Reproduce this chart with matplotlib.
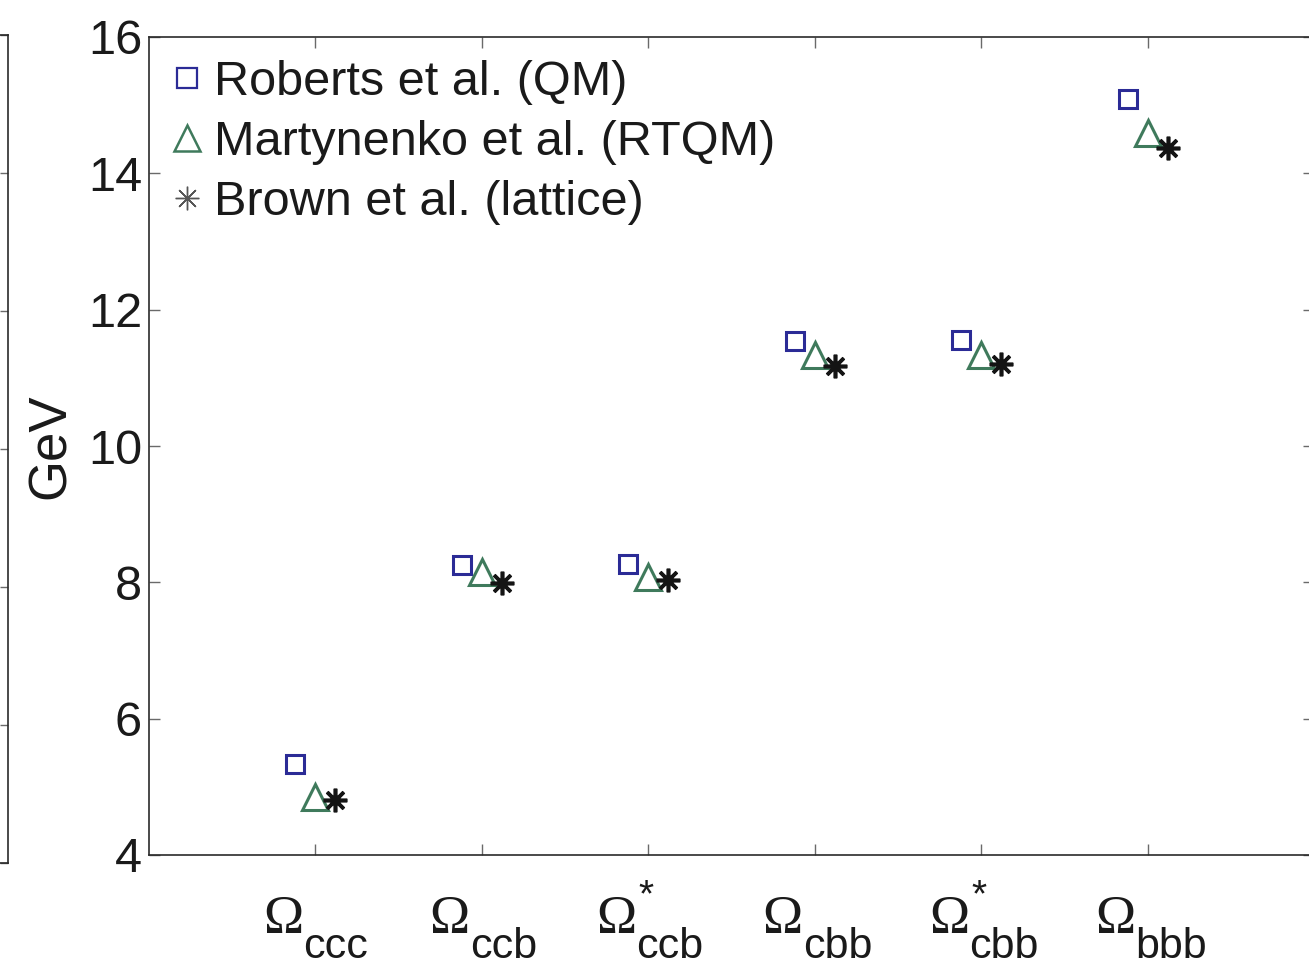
import matplotlib
matplotlib.use("Agg")
import matplotlib.pyplot as plt
import matplotlib.transforms as mtransforms
from matplotlib.lines import Line2D
import numpy as np

# ---------------- data ----------------
categories = ["ccc", "ccb", "ccb", "cbb", "cbb", "bbb"]
starred = [False, False, True, False, True, False]
roberts_qm = [5.34, 8.25, 8.27, 11.54, 11.56, 15.09]
martynenko_rtqm = [4.85, 8.15, 8.08, 11.34, 11.34, 14.59]
brown_lattice = [4.80, 7.99, 8.03, 11.17, 11.20, 14.37]
series_labels = ["Roberts et al. (QM)", "Martynenko et al. (RTQM)", "Brown et al. (lattice)"]
yticks = [4, 6, 8, 10, 12, 14, 16]

W, H = 1309, 966
fig = plt.figure(figsize=(W / 100, H / 100), dpi=100)
plt.rcParams['font.family'] = ['Liberation Sans', 'DejaVu Sans']

spine_col = "#2a2a2a"
tick_col = "#6a6a6a"

# partial neighbouring panel at left edge
axl = fig.add_axes([-0.3, 1 - 863 / H, 0.3 + 8 / W, (863 - 35) / H])
axl.set_xlim(0, 1)
axl.set_ylim(0, 6)
axl.set_xticks([])
axl.set_yticks(range(7))
axl.yaxis.tick_right()
axl.tick_params(axis='y', direction='in', length=6, width=1, colors=tick_col, labelright=False)
for s in axl.spines.values():
    s.set_color(spine_col)
    s.set_linewidth(1.2)

# main axes
x0, x1 = 149 / W, 1314 / W
y0, y1 = 1 - 855 / H, 1 - 37 / H
ax = fig.add_axes([x0, y0, x1 - x0, y1 - y0])
xpos = np.arange(1, len(categories) + 1)
ax.set_xlim(0, 7)
ax.set_ylim(4, 16)
ax.set_yticks(yticks)
ax.set_xticks(xpos)
ax.set_xticklabels([])
ax.tick_params(axis='both', direction='in', length=8, width=1, color=tick_col,
               top=True, right=True, labelsize=35, pad=5, labelcolor="#1a1a1a")
for s in ax.spines.values():
    s.set_color(spine_col)
    s.set_linewidth(1.2)

off = 0.12
sq_col = "#2b2b96"
tri_col = "#3f7a5c"
st_col = "#141414"
ax.plot(xpos - off, roberts_qm, linestyle='none', marker='s', ms=13.5, mfc='none',
        mec=sq_col, mew=2.2)
ax.plot(xpos, martynenko_rtqm, linestyle='none', marker='^', ms=19, mfc='none',
        mec=tri_col, mew=2.2)
ax.plot(xpos + off, brown_lattice, linestyle='none', marker=(8, 2, 0), ms=17,
        mec=st_col, mew=2.6)

# legend (proxy handles)
handles = [
    Line2D([], [], linestyle='none', marker='s', ms=14, mfc='none', mec=sq_col, mew=1.6),
    Line2D([], [], linestyle='none', marker='^', ms=19, mfc='none', mec=tri_col, mew=1.8),
    Line2D([], [], linestyle='none', marker=(8, 2, 0), ms=17, mec="#555555", mew=1.0),
]
ax.legend(handles, series_labels, loc='upper left',
          frameon=False, fontsize=35, handlelength=0.6, handletextpad=0.27,
          borderpad=0, borderaxespad=0, labelspacing=0.31, labelcolor="#1a1a1a")
leg = ax.get_legend()
leg.set_bbox_to_anchor(((23 / W) / (x1 - x0), 1 - (16 / H) / (y1 - y0) - 0.008),
                       transform=ax.transAxes)

# y label
fig.text(51 / W, 1 - 446 / H, "GeV", rotation=90, fontsize=38, ha='center', va='center',
         color="#1a1a1a")

# x tick labels: serif Omega + sans subscript (+ star)
blend = mtransforms.blended_transform_factory(ax.transData, fig.transFigure)
def shifted(dx_px):
    return blend + mtransforms.ScaledTranslation(dx_px / 100, 0, fig.dpi_scale_trans)

for xp, cat, st in zip(xpos, categories, starred):
    fig.text(xp, 1 - 933 / H, "\u03A9", transform=shifted(-12), ha='right', va='baseline',
             fontsize=39, family=['Liberation Serif', 'DejaVu Serif'], color="#1a1a1a")
    fig.text(xp, 1 - 958 / H, cat, transform=shifted(-12), ha='left', va='baseline',
             fontsize=31, color="#1a1a1a")
    if st:
        fig.text(xp, 1 - 906 / H, "*", transform=shifted(-2), ha='center', va='baseline',
                 fontsize=28, color="#1a1a1a")

fig.savefig("out.png", dpi=100)
